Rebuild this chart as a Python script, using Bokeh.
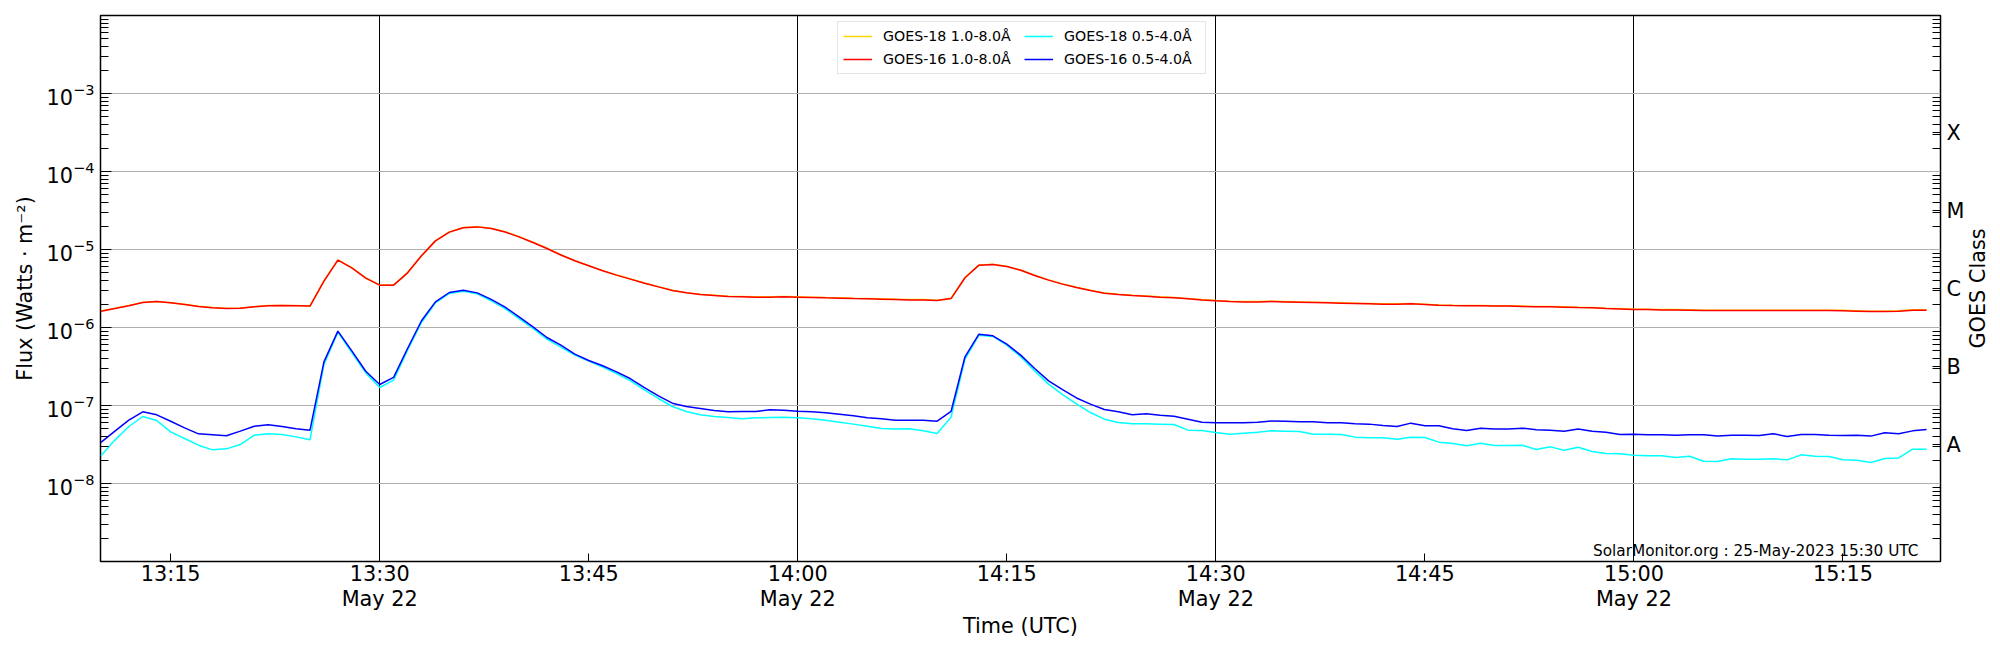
from datetime import datetime, timedelta
import math

from bokeh.plotting import figure
from bokeh.layouts import row
from bokeh.models import Range1d, FixedTicker, LogAxis, Legend, LegendItem, Label
from bokeh.embed import file_html
from bokeh.resources import INLINE

# ---------------- data (1-minute cadence, 13:10 .. 15:21 UTC, 22 May 2023) ----------------
start_time = datetime(2023, 5, 22, 13, 10)
cadence_minutes = 1

long_scale = 1e-6   # 1.0-8.0 Å values are given in units of 1e-6 W/m²
short_scale = 1e-8  # 0.5-4.0 Å values are given in units of 1e-8 W/m²

goes16_long = [
    1.62, 1.75, 1.90, 2.09, 2.15, 2.07, 1.97, 1.86, 1.79, 1.75, 1.77, 1.84, 1.90, 1.91, 1.90, 1.88,
    3.93, 7.30, 5.82, 4.29, 3.49, 3.49, 5.02, 8.30, 12.9, 16.7, 19.0, 19.5, 18.6, 16.8, 14.5, 12.3, 10.3, 8.5,
    7.16, 6.18, 5.33, 4.69, 4.17, 3.70, 3.32, 2.98, 2.78, 2.65, 2.57, 2.49, 2.47, 2.45, 2.45, 2.47,
    2.45, 2.43, 2.40, 2.38, 2.35, 2.33, 2.31, 2.29, 2.26, 2.26, 2.22, 2.35, 4.34, 6.30, 6.43, 6.05, 5.43,
    4.65, 4.05, 3.60, 3.26, 2.98, 2.75, 2.65, 2.57, 2.52, 2.45, 2.40, 2.33, 2.26, 2.20, 2.15, 2.13,
    2.13, 2.15, 2.13, 2.11, 2.09, 2.07, 2.05, 2.03, 2.01, 1.99, 1.99, 2.01, 1.97, 1.93, 1.91, 1.90, 1.90,
    1.88, 1.88, 1.86, 1.84, 1.84, 1.82, 1.80, 1.79, 1.75, 1.73, 1.70, 1.70, 1.68, 1.68, 1.67, 1.65,
    1.65, 1.65, 1.65, 1.65, 1.65, 1.65, 1.65, 1.65, 1.65, 1.64, 1.62, 1.60, 1.60, 1.62, 1.67, 1.67,
]

# GOES-18 long channel lies (almost) exactly underneath GOES-16 in the picture
goes18_long = [
    1.63, 1.76, 1.91, 2.10, 2.16, 2.08, 1.98, 1.87, 1.80, 1.76, 1.78, 1.85, 1.91, 1.92, 1.91, 1.89,
    3.95, 7.33, 5.85, 4.31, 3.50, 3.50, 5.04, 8.33, 12.9, 16.8, 19.1, 19.6, 18.7, 16.9, 14.6, 12.4, 10.4, 8.55,
    7.19, 6.21, 5.36, 4.71, 4.19, 3.72, 3.34, 3.00, 2.80, 2.67, 2.59, 2.51, 2.49, 2.47, 2.47, 2.49,
    2.47, 2.45, 2.42, 2.40, 2.37, 2.35, 2.33, 2.31, 2.28, 2.28, 2.24, 2.37, 4.36, 6.33, 6.46, 6.08, 5.46,
    4.68, 4.08, 3.62, 3.28, 3.00, 2.77, 2.67, 2.59, 2.54, 2.47, 2.42, 2.35, 2.28, 2.22, 2.17, 2.15,
    2.15, 2.17, 2.15, 2.13, 2.11, 2.09, 2.07, 2.05, 2.03, 2.01, 2.01, 2.03, 1.99, 1.95, 1.93, 1.92, 1.92,
    1.90, 1.90, 1.88, 1.86, 1.86, 1.84, 1.82, 1.81, 1.77, 1.75, 1.72, 1.72, 1.70, 1.70, 1.69, 1.67,
    1.67, 1.67, 1.67, 1.67, 1.67, 1.67, 1.67, 1.67, 1.67, 1.66, 1.64, 1.62, 1.62, 1.64, 1.69, 1.69,
]

goes16_short = [
    3.36, 4.69, 6.49, 8.30, 7.59, 6.29, 5.17, 4.33, 4.21, 4.09, 4.69, 5.43, 5.65, 5.38, 5.02, 4.83,
    36.3, 89.8, 50.2, 27.5, 18.6, 22.9, 53.8, 122, 213, 281, 301, 278, 229, 182, 137, 102, 74.5, 59.4,
    45.5, 37.8, 32.3, 27.0, 22.0, 17.0, 13.3, 10.7, 9.71, 9.16, 8.63, 8.30, 8.38, 8.38, 8.79, 8.71,
    8.46, 8.30, 8.05, 7.74, 7.38, 6.95, 6.75, 6.49, 6.49, 6.49, 6.29, 8.38, 42.1, 82.2, 78.2, 61.1, 44.2,
    29.8, 20.7, 16.0, 12.5, 10.4, 8.88, 8.30, 7.59, 7.82, 7.52, 7.30, 6.68, 6.11, 6.00, 6.00, 6.00,
    6.11, 6.35, 6.29, 6.18, 6.18, 6.00, 6.00, 5.82, 5.77, 5.54, 5.38, 5.94, 5.49, 5.49, 5.02, 4.78, 5.12,
    4.98, 4.98, 5.12, 4.88, 4.83, 4.69, 4.98, 4.69, 4.55, 4.25, 4.29, 4.21, 4.21, 4.17, 4.21, 4.21,
    4.05, 4.17, 4.17, 4.12, 4.33, 4.01, 4.25, 4.25, 4.17, 4.12, 4.17, 4.05, 4.47, 4.33, 4.73, 4.92,
]

goes18_short = [
    2.27, 3.60, 5.38, 7.23, 6.43, 4.59, 3.78, 3.10, 2.70, 2.78, 3.16, 4.17, 4.33, 4.25, 3.96, 3.63,
    33.6, 87.1, 47.8, 26.2, 17.0, 21.1, 51.2, 116, 207, 273, 292, 270, 220, 175, 130, 97.1, 70.8, 56.0,
    44.2, 37.0, 31.0, 25.7, 20.7, 15.9, 12.3, 9.71, 8.38, 7.59, 7.23, 7.02, 6.75, 6.95, 7.02, 7.08,
    6.95, 6.75, 6.49, 6.11, 5.77, 5.43, 5.07, 4.98, 5.02, 4.73, 4.38, 7.08, 39.3, 79.8, 76.7, 59.4, 42.1,
    27.8, 18.8, 13.8, 10.5, 8.13, 6.68, 6.05, 5.82, 5.82, 5.77, 5.71, 4.83, 4.78, 4.51, 4.29, 4.42,
    4.55, 4.73, 4.69, 4.65, 4.29, 4.29, 4.25, 3.93, 3.85, 3.85, 3.70, 3.93, 3.89, 3.39, 3.26, 3.04, 3.29,
    3.07, 3.07, 3.10, 2.73, 2.95, 2.67, 2.92, 2.57, 2.43, 2.40, 2.31, 2.27, 2.27, 2.15, 2.24, 1.93,
    1.91, 2.07, 2.05, 2.05, 2.07, 2.01, 2.33, 2.24, 2.22, 2.01, 1.99, 1.86, 2.09, 2.13, 2.75, 2.75,
]

series_labels = ["GOES-18 1.0-8.0Å", "GOES-16 1.0-8.0Å", "GOES-18 0.5-4.0Å", "GOES-16 0.5-4.0Å"]
series_colors = ["gold", "red", "cyan", "blue"]

x_tick_times = [datetime(2023, 5, 22, 13, 15) + timedelta(minutes=15 * i) for i in range(9)]
x_tick_labels = ["13:15", "13:30\nMay 22", "13:45", "14:00\nMay 22", "14:15",
                 "14:30\nMay 22", "14:45", "15:00\nMay 22", "15:15"]
day_marker_times = [datetime(2023, 5, 22, 13, 30), datetime(2023, 5, 22, 14, 0),
                    datetime(2023, 5, 22, 14, 30), datetime(2023, 5, 22, 15, 0)]

flux_decades = [1e-8, 1e-7, 1e-6, 1e-5, 1e-4, 1e-3]
goes_classes = ["A", "B", "C", "M", "X"]
goes_class_exponents = [-7.5, -6.5, -5.5, -4.5, -3.5]

x_start = datetime(2023, 5, 22, 13, 9, 58)
x_end = datetime(2023, 5, 22, 15, 22, 0)
y_start, y_end = 1e-9, 1e-2

x_title = "Time (UTC)"
y_title = "Flux (Watts · m⁻²)"
right_title = "GOES Class"
stamp_text = "SolarMonitor.org : 25-May-2023 15:30 UTC"

# ---------------- helpers ----------------
EPOCH = datetime(1970, 1, 1)


def to_ms(dt):
    return (dt - EPOCH).total_seconds() * 1000.0


times = [start_time + timedelta(minutes=cadence_minutes * i) for i in range(len(goes16_long))]

FONT = "DejaVu Sans"
TICK_FS = "20.8px"
FRAME_W, FRAME_H = 1840, 546
TOTAL_H = 650
RIGHT_STRIP_W = 34

p = figure(
    frame_width=FRAME_W, frame_height=FRAME_H,
    x_axis_type="datetime", y_axis_type="log",
    x_range=Range1d(x_start, x_end), y_range=Range1d(y_start, y_end),
    output_backend="svg", toolbar_location=None,
    min_border_left=100, min_border_right=26, min_border_top=15, min_border_bottom=89,
    background_fill_color="white", border_fill_color="white",
)
p.outline_line_color = "black"
p.outline_line_width = 1.5

# grid: gray decades, black half-hour markers
p.ygrid.ticker = FixedTicker(ticks=flux_decades)
p.ygrid.grid_line_color = "#b0b0b0"
p.ygrid.grid_line_width = 1
p.xgrid.ticker = FixedTicker(ticks=[to_ms(t) for t in day_marker_times])
p.xgrid.grid_line_color = "black"
p.xgrid.grid_line_width = 1

# lines
series = [
    (goes18_long, long_scale),
    (goes16_long, long_scale),
    (goes18_short, short_scale),
    (goes16_short, short_scale),
]
renderers = []
for (vals, scale), color in zip(series, series_colors):
    r = p.line(times, [v * scale for v in vals], line_color=color, line_width=1.5)
    renderers.append(r)

# minor log ticks
minor = [k * 10.0 ** e for e in range(-9, -2) for k in range(2, 10)]

# left axis
yax = p.yaxis[0]
yax.ticker = FixedTicker(ticks=flux_decades, minor_ticks=minor)
yax.axis_line_color = None
yax.major_tick_in = 11
yax.major_tick_out = 0
yax.minor_tick_in = 8
yax.minor_tick_out = 0
yax.major_tick_line_color = "black"
yax.minor_tick_line_color = "black"
yax.major_label_standoff = 6
yax.major_label_text_font = FONT
yax.major_label_text_font_size = TICK_FS
yax.major_label_text_color = "black"
yax.axis_label = y_title
yax.axis_label_text_font = FONT
yax.axis_label_text_font_size = TICK_FS
yax.axis_label_text_font_style = "normal"
yax.axis_label_text_color = "black"
yax.axis_label_standoff = 7

# bottom axis
xax = p.xaxis[0]
tick_ms = [to_ms(t) for t in x_tick_times]
xax.ticker = FixedTicker(ticks=tick_ms)
xax.major_label_overrides = {ms: lab for ms, lab in zip(tick_ms, x_tick_labels)}
xax.axis_line_color = None
xax.major_tick_in = 8
xax.major_tick_out = 0
xax.minor_tick_in = 0
xax.minor_tick_out = 0
xax.major_tick_line_color = "black"
xax.major_label_standoff = 0
xax.major_label_text_font = FONT
xax.major_label_text_font_size = TICK_FS
xax.major_label_text_color = "black"
xax.major_label_text_line_height = 1.08
xax.axis_label = x_title
xax.axis_label_text_font = FONT
xax.axis_label_text_font_size = TICK_FS
xax.axis_label_text_font_style = "normal"
xax.axis_label_text_color = "black"
xax.axis_label_standoff = 0

# right axis: GOES classes
class_ticks = [10.0 ** e for e in goes_class_exponents]
rax = LogAxis(
    ticker=FixedTicker(ticks=class_ticks, minor_ticks=minor),
    major_label_overrides={t: c for t, c in zip(class_ticks, goes_classes)},
    axis_line_color=None,
    major_tick_in=8, major_tick_out=0, minor_tick_in=8, minor_tick_out=0,
    major_tick_line_color="black", minor_tick_line_color="black",
    major_label_standoff=6,
    major_label_text_font=FONT, major_label_text_font_size=TICK_FS,
    major_label_text_color="black",
)
p.add_layout(rax, "right")

# legend (2 x 2)
items = [LegendItem(label=lab, renderers=[r]) for lab, r in zip(series_labels, renderers)]
legend = Legend(
    items=items, orientation="vertical", nrows=2,
    location=(737, 487),
    label_text_font=FONT, label_text_font_size="14.2px", label_text_color="black",
    glyph_width=29, glyph_height=18, label_height=18, label_width=136,
    label_standoff=11, spacing=5, padding=5, margin=0,
    border_line_color="#cccccc", border_line_width=1,
    background_fill_color="white", background_fill_alpha=0.8,
)
p.add_layout(legend, "center")

# timestamp
p.add_layout(Label(
    x=1818, y=11, x_units="screen", y_units="screen",
    text=stamp_text, text_align="right", text_baseline="alphabetic",
    text_font=FONT, text_font_size="15.3px", text_color="black",
))

# narrow strip on the right carrying the rotated "GOES Class" title
# (its frame is aligned with the main frame by the row layout)
strip = figure(
    width=RIGHT_STRIP_W, height=TOTAL_H,
    x_range=Range1d(0, 1), y_range=Range1d(0, 1),
    x_axis_location=None, y_axis_location=None,
    output_backend="svg", toolbar_location=None,
    min_border=0, outline_line_color=None,
    background_fill_color="white", border_fill_color="white",
)
strip.grid.visible = False
strip.add_layout(Label(
    x=10, y=FRAME_H / 2, x_units="screen", y_units="screen",
    text=right_title, text_align="center", text_baseline="middle", angle=math.pi / 2,
    text_font=FONT, text_font_size=TICK_FS, text_color="black",
))

layout = row(p, strip, spacing=0)
open("out.html", "w").write(file_html(layout, INLINE))
